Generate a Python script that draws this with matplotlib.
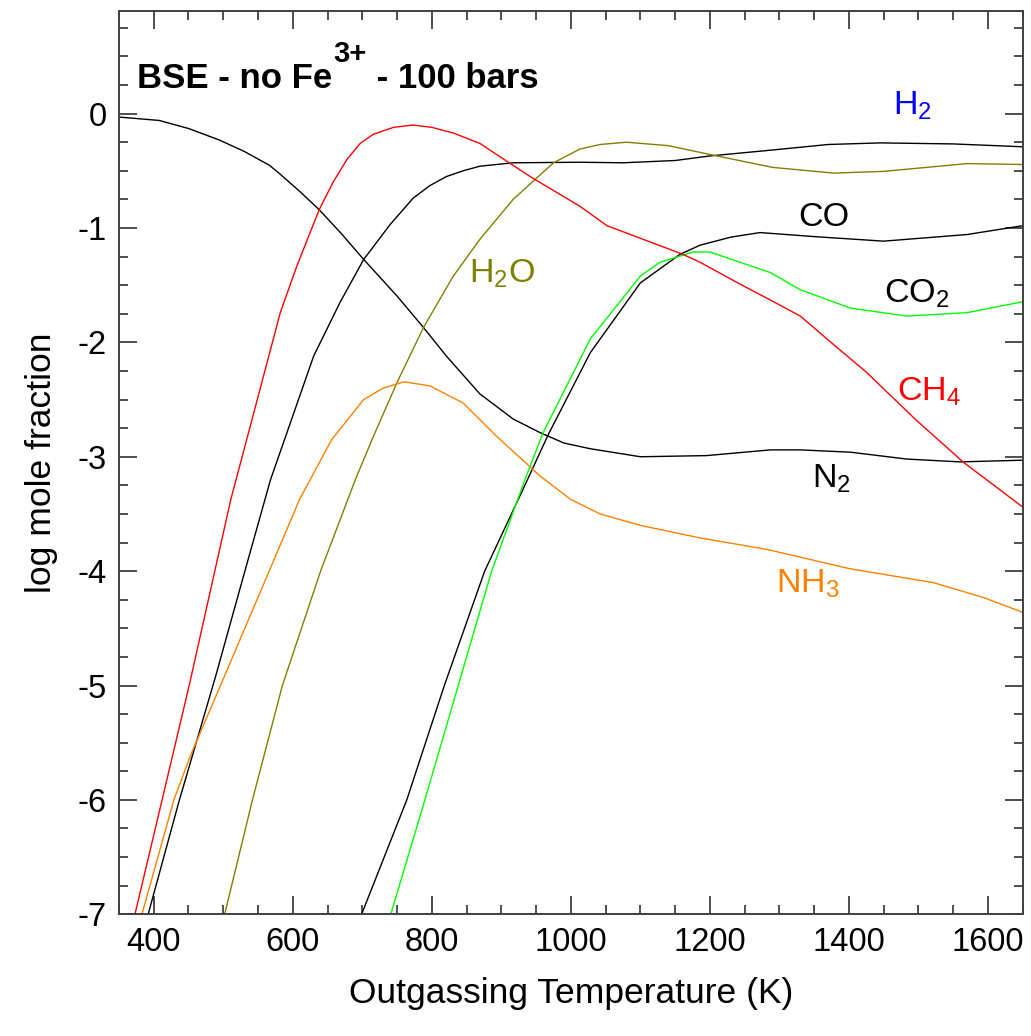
"""
Outgassed gas speciation for BSE composition (no Fe3+) at 100 bars:
log mole fraction vs outgassing temperature.
"""

import matplotlib.pyplot as plt
from matplotlib.ticker import MultipleLocator

plt.rcParams['font.family'] = ['Liberation Sans', 'DejaVu Sans']
plt.rcParams['mathtext.fontset'] = 'custom'
plt.rcParams['mathtext.rm'] = 'Liberation Sans'
plt.rcParams['mathtext.it'] = 'Liberation Sans:italic'
plt.rcParams['mathtext.bf'] = 'Liberation Sans:bold'
plt.rcParams['axes.unicode_minus'] = False

# Curves (temperature in K, log mole fraction)
T_h2 = [392, 436, 489, 532, 568, 591, 630, 668, 702, 740, 773, 797, 821, 845,
        869, 917, 1013, 1075, 1150, 1200, 1287, 1370, 1445, 1550, 1650]
v_h2 = [-7.0, -6.02, -4.92, -3.98, -3.20, -2.80, -2.12, -1.65, -1.275, -0.97,
        -0.74, -0.63, -0.55, -0.50, -0.46, -0.43, -0.425, -0.43, -0.41, -0.37,
        -0.32, -0.27, -0.256, -0.265, -0.29]

T_n2 = [350, 408, 450, 494, 530, 566, 582, 610, 638, 670, 702, 750, 788, 821,
        869, 917, 956, 990, 1028, 1100, 1195, 1287, 1330, 1402, 1483, 1560, 1650]
v_n2 = [-0.03, -0.06, -0.13, -0.23, -0.33, -0.45, -0.53, -0.68, -0.84, -1.05,
        -1.275, -1.595, -1.87, -2.12, -2.45, -2.67, -2.79, -2.88, -2.93, -3.00,
        -2.99, -2.94, -2.94, -2.96, -3.02, -3.045, -3.03]

T_h2o = [502, 542, 585, 640, 690, 714, 750, 788, 831, 869, 917, 975, 1013,
         1042, 1080, 1140, 1210, 1290, 1378, 1450, 1570, 1650]
v_h2o = [-7.0, -6.0, -5.0, -4.0, -3.20, -2.85, -2.35, -1.87, -1.42, -1.10,
         -0.75, -0.43, -0.31, -0.27, -0.25, -0.28, -0.37, -0.47, -0.52, -0.505,
         -0.437, -0.445]

T_ch4 = [373, 412, 451, 511, 542, 582, 606, 638, 658, 678, 697, 716, 745, 773,
         800, 831, 869, 910, 944, 1013, 1052, 1100, 1161, 1186, 1240, 1287,
         1330, 1378, 1425, 1495, 1565, 1650]
v_ch4 = [-7.0, -6.0, -5.0, -3.37, -2.66, -1.74, -1.33, -0.84, -0.60, -0.40,
         -0.26, -0.18, -0.12, -0.10, -0.12, -0.17, -0.26, -0.425, -0.56, -0.81,
         -0.98, -1.09, -1.23, -1.30, -1.48, -1.63, -1.77, -2.02, -2.26, -2.67,
         -3.05, -3.44]

T_nh3 = [383, 429, 453, 496, 566, 610, 656, 702, 730, 760, 797, 845, 893, 956,
         999, 1042, 1100, 1186, 1282, 1402, 1521, 1593, 1650]
v_nh3 = [-7.0, -6.0, -5.61, -5.0, -4.0, -3.37, -2.85, -2.50, -2.40, -2.345,
         -2.38, -2.53, -2.82, -3.17, -3.37, -3.50, -3.60, -3.71, -3.81, -3.98,
         -4.10, -4.23, -4.36]

T_co = [699, 764, 818, 876, 930, 968, 1028, 1100, 1157, 1186, 1230, 1272,
        1354, 1450, 1570, 1650]
v_co = [-7.0, -6.0, -5.0, -4.0, -3.30, -2.80, -2.09, -1.48, -1.23, -1.15,
        -1.08, -1.04, -1.077, -1.115, -1.057, -0.98]

T_co2 = [741, 790, 838, 886, 934, 960, 1028, 1100, 1128, 1176, 1200, 1258,
         1287, 1330, 1402, 1483, 1570, 1650]
v_co2 = [-7.0, -6.0, -5.0, -4.0, -3.20, -2.79, -1.97, -1.42, -1.30, -1.21,
         -1.21, -1.33, -1.39, -1.54, -1.70, -1.77, -1.74, -1.645]

# Species labels: text, x, y, colour
labels = [
    (r'H$_2$', 1463, -0.01, '#0000ff'),
    ('CO', 1327, -0.98, 'black'),
    (r'CO$_2$', 1451, -1.65, 'black'),
    (r'CH$_4$', 1469, -2.51, '#ff0000'),
    (r'N$_2$', 1347, -3.27, 'black'),
    (r'NH$_3$', 1295, -4.19, '#ff8000'),
    (r'H$_2$O', 853, -1.48, '#808000'),
]

fig = plt.figure(figsize=(10.31, 10.36), dpi=100)
ax = fig.add_axes([0.1154, 0.1175, 0.8766, 0.8722])

lw = 1.0
ax.plot(T_n2, v_n2, color='black', lw=lw)
ax.plot(T_h2, v_h2, color='black', lw=lw)
ax.plot(T_co, v_co, color='black', lw=lw)
ax.plot(T_h2o, v_h2o, color='#808000', lw=lw)
ax.plot(T_nh3, v_nh3, color='#ff8000', lw=lw)
ax.plot(T_co2, v_co2, color='#00ff00', lw=lw)
ax.plot(T_ch4, v_ch4, color='#ff0000', lw=lw)

for txt, x, y, c in labels:
    ax.text(x, y, txt, color=c, fontsize=24.5, ha='left', va='baseline')

# title with a big raised "3+"
t1 = ax.text(0.02, 0.914, 'BSE - no Fe', transform=ax.transAxes,
             fontsize=25, fontweight='bold', ha='left', va='baseline')
t2 = ax.annotate('3+', xy=(1, 0), xycoords=t1, xytext=(1, 19.5),
                 textcoords='offset points', fontsize=21, fontweight='bold',
                 ha='left', va='bottom')
ax.annotate(' - 100 bars', xy=(1, 0), xycoords=(t2, t1), xytext=(0, 0),
            textcoords='offset points', fontsize=25, fontweight='bold',
            ha='left', va='bottom')

ax.set_xlim(350, 1650)
ax.set_ylim(-7, 0.9)
ax.xaxis.set_major_locator(MultipleLocator(200))
ax.xaxis.set_minor_locator(MultipleLocator(50))
ax.yaxis.set_major_locator(MultipleLocator(1))
ax.yaxis.set_minor_locator(MultipleLocator(0.25))

spine_c = '#404040'
for s in ax.spines.values():
    s.set_color(spine_c)
    s.set_linewidth(1.4)
ax.tick_params(which='both', direction='in', top=True, right=True,
               color=spine_c, width=1.3)
ax.tick_params(which='major', length=13, labelsize=23.5, pad=9)
ax.tick_params(which='minor', length=6.7)

ax.set_xlabel('Outgassing Temperature (K)', fontsize=25.5, labelpad=14)
ax.set_ylabel('log mole fraction', fontsize=25.5, labelpad=14)

fig.savefig('out.png', dpi=100)
